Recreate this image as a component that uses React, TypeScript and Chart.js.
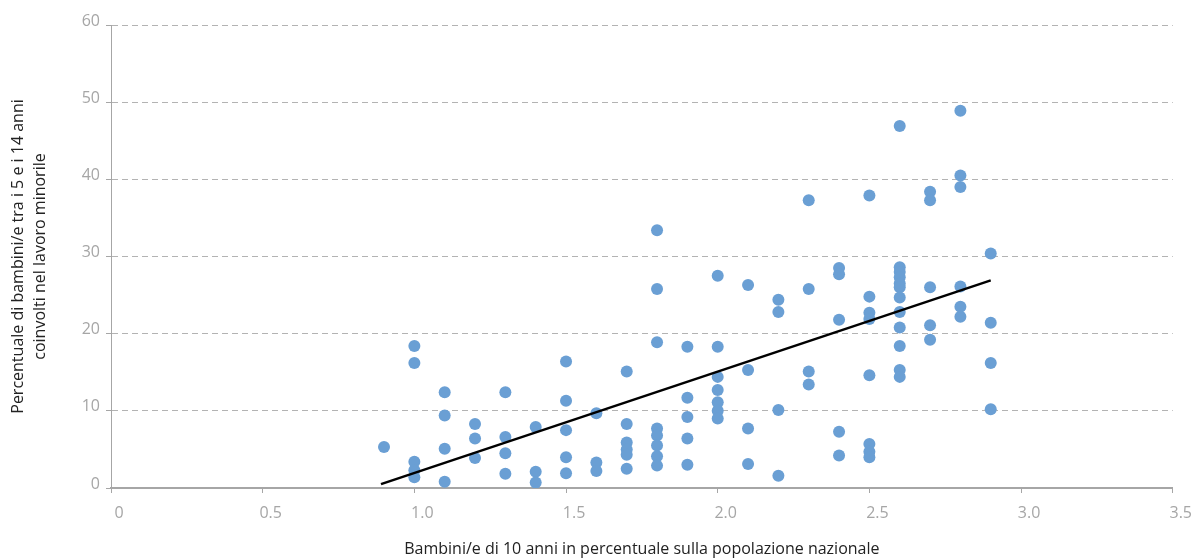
import React, { useEffect, useRef } from "react";
import { Chart, registerables } from "chart.js";

Chart.register(...registerables);

// Share of 10-year-olds in national population (x) vs child labour % (y)
const shareOf10YearOlds = [
  0.9,
  1.0, 1.0, 1.0, 1.0, 1.0,
  1.1, 1.1, 1.1, 1.1,
  1.2, 1.2, 1.2,
  1.3, 1.3, 1.3, 1.3,
  1.4, 1.4, 1.4,
  1.5, 1.5, 1.5, 1.5, 1.5,
  1.6, 1.6, 1.6,
  1.7, 1.7, 1.7, 1.7, 1.7, 1.7,
  1.8, 1.8, 1.8, 1.8, 1.8, 1.8, 1.8, 1.8,
  1.9, 1.9, 1.9, 1.9, 1.9,
  2.0, 2.0, 2.0, 2.0, 2.0, 2.0, 2.0,
  2.1, 2.1, 2.1, 2.1,
  2.2, 2.2, 2.2, 2.2,
  2.3, 2.3, 2.3, 2.3,
  2.4, 2.4, 2.4, 2.4, 2.4,
  2.5, 2.5, 2.5, 2.5, 2.5, 2.5, 2.5, 2.5,
  2.6, 2.6, 2.6, 2.6, 2.6, 2.6, 2.6, 2.6, 2.6, 2.6, 2.6, 2.6,
  2.7, 2.7, 2.7, 2.7, 2.7,
  2.8, 2.8, 2.8, 2.8, 2.8, 2.8,
  2.9, 2.9, 2.9, 2.9,
];

const childLabourPct = [
  5.3,
  18.4, 16.2, 3.4, 2.3, 1.4,
  12.4, 9.4, 5.1, 0.8,
  8.3, 6.4, 3.9,
  12.4, 6.6, 4.5, 1.85,
  7.9, 2.1, 0.7,
  16.4, 11.3, 7.5, 4.0, 1.9,
  9.7, 3.3, 2.2,
  15.1, 8.3, 5.9, 5.0, 4.3, 2.5,
  33.4, 25.8, 18.9, 7.7, 6.8, 5.5, 4.1, 2.9,
  18.3, 11.7, 9.2, 6.4, 3.0,
  27.5, 18.3, 14.4, 12.7, 11.1, 10.0, 9.0,
  26.3, 15.3, 7.7, 3.1,
  24.4, 22.8, 10.1, 1.6,
  37.3, 25.8, 15.1, 13.4,
  28.5, 27.7, 21.8, 7.3, 4.2,
  37.9, 24.8, 22.7, 21.9, 14.6, 5.7, 4.7, 4.0,
  46.9, 28.6, 28.0, 27.3, 26.5, 26.0, 24.7, 22.8, 20.8, 18.4, 15.3, 14.4,
  38.4, 37.3, 26.0, 21.1, 19.2,
  48.9, 40.5, 39.0, 26.1, 23.5, 22.2,
  30.4, 21.4, 16.2, 10.2,
];

const trendX = [0.89, 2.9];
const trendY = [0.5, 26.9];

const xTitle = "Bambini/e di 10 anni in percentuale sulla popolazione nazionale";
const yTitle = [
  "Percentuale di bambini/e tra i 5 e i 14 anni",
  "coinvolti nel lavoro minorile",
];

export default function App() {
  const canvasRef = useRef<HTMLCanvasElement | null>(null);

  useEffect(() => {
    document.body.style.margin = "0";
    const canvas = canvasRef.current;
    if (!canvas) return;
    const scatterData = shareOf10YearOlds.map((x, i) => ({ x, y: childLabourPct[i] }));
    const trendData = trendX.map((x, i) => ({ x, y: trendY[i] }));
    const fontFamily = "'Open Sans', sans-serif";

    const chart = new Chart(canvas, {
      type: "scatter",
      data: {
        datasets: [
          {
            type: "line",
            data: trendData,
            borderColor: "#000000",
            borderWidth: 2.5,
            pointRadius: 0,
            fill: false,
            order: 0,
          } as any,
          {
            data: scatterData,
            backgroundColor: "#6a9fd4",
            borderWidth: 0,
            pointRadius: 6,
            pointHoverRadius: 6,
            order: 1,
          },
        ],
      },
      options: {
        animation: false,
        responsive: false,
        maintainAspectRatio: false,
        layout: { padding: { left: 0, top: 25, right: 21, bottom: 0 } },
        plugins: {
          legend: { display: false },
          tooltip: { enabled: false },
        },
        scales: {
          x: {
            type: "linear",
            min: 0,
            max: 3.5,
            afterFit: (scale: any) => {
              scale.height = 71;
            },
            ticks: {
              stepSize: 0.5,
              color: "#a6a6a6",
              font: { family: fontFamily, size: 16 },
              padding: 11,
              labelOffset: 8,
              maxRotation: 0,
              callback: (v: any) => (Number(v) === 0 ? "0" : Number(v).toFixed(1)),
            },
            grid: {
              drawOnChartArea: false,
              drawTicks: true,
              tickLength: 5,
              tickColor: "#a6a6a6",
              tickWidth: 1,
            },
            border: { display: true, color: "#a6a6a6", width: 2 },
            title: {
              display: true,
              text: xTitle,
              color: "#222222",
              font: { family: fontFamily, size: 16 },
              padding: { top: 0, bottom: 0 },
            },
          },
          y: {
            type: "linear",
            min: 0,
            max: 60,
            afterFit: (scale: any) => {
              scale.width = 111;
            },
            ticks: {
              stepSize: 10,
              color: "#a6a6a6",
              font: { family: fontFamily, size: 16 },
              padding: 6,
              labelOffset: -4,
            },
            grid: {
              color: (ctx: any) => (ctx.tick && ctx.tick.value === 0 ? "rgba(0,0,0,0)" : "#b3b3b3"),
              lineWidth: 1,
              drawTicks: true,
              tickLength: 5,
              tickColor: "#a6a6a6",
              tickWidth: 1,
            },
            border: { display: true, color: "#a6a6a6", width: 1, dash: [6, 4] },
            title: {
              display: true,
              text: yTitle,
              color: "#222222",
              font: { family: fontFamily, size: 16, lineHeight: 1.4 },
              padding: { top: 7, bottom: 0 },
            },
          },
        },
      },
    });
    return () => chart.destroy();
  }, []);

  return (
    <div style={{ width: 1195, height: 559 }}>
      <canvas ref={canvasRef} width={1195} height={559} style={{ display: "block" }} />
    </div>
  );
}
